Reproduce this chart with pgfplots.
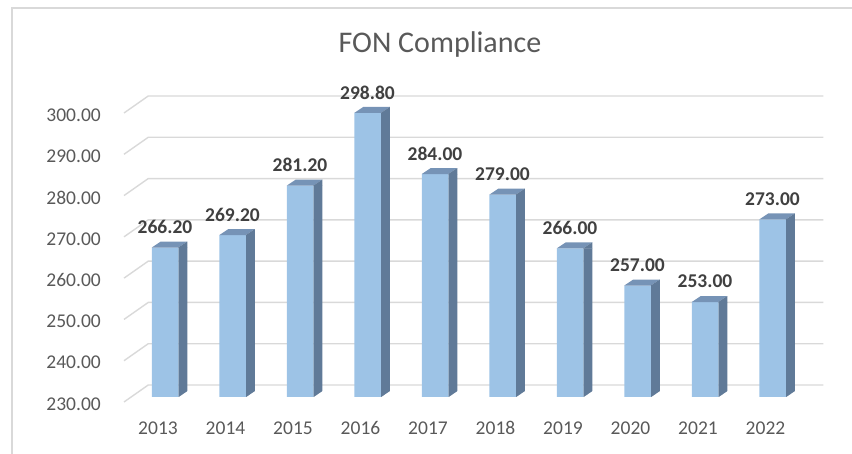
\documentclass[border=0pt]{standalone}
\usepackage{pgfplots}
\pgfplotsset{compat=1.18}
\usepackage{pgfplotstable}
\usepackage{fontspec}
\setmainfont{Carlito}

\definecolor{frontc}{RGB}{157,195,230}
\definecolor{sidec}{RGB}{96,122,152}
\definecolor{topc}{RGB}{118,147,182}
\definecolor{gridc}{RGB}{217,217,217}
\definecolor{tickc}{RGB}{89,89,89}
\definecolor{labc}{RGB}{64,64,64}

\pgfplotstableread{
year value label
2013 266.20 266.20
2014 269.20 269.20
2015 281.20 281.20
2016 298.80 298.80
2017 284.00 284.00
2018 279.00 279.00
2019 266.00 266.00
2020 257.00 257.00
2021 253.00 253.00
2022 273.00 273.00
}\data

% top face + top part of side face, drawn at the front-top-centre of each bar
\pgfdeclareplotmark{topface}{%
  \pgfsetfillcolor{topc}%
  \pgfpathmoveto{\pgfpoint{-13.25bp}{0bp}}%
  \pgfpathlineto{\pgfpoint{13.25bp}{0bp}}%
  \pgfpathlineto{\pgfpoint{22.25bp}{6bp}}%
  \pgfpathlineto{\pgfpoint{-4.25bp}{6bp}}%
  \pgfpathclose
  \pgfusepath{fill}%
  \pgfsetfillcolor{sidec}%
  \pgfpathmoveto{\pgfpoint{13.25bp}{-0.3bp}}%
  \pgfpathlineto{\pgfpoint{13.25bp}{0bp}}%
  \pgfpathlineto{\pgfpoint{22.25bp}{6bp}}%
  \pgfpathlineto{\pgfpoint{22.25bp}{-0.3bp}}%
  \pgfpathclose
  \pgfusepath{fill}%
}
% cut the lower corner of the side face
\pgfdeclareplotmark{basetri}{%
  \pgfsetfillcolor{white}%
  \pgfpathmoveto{\pgfpoint{13.25bp}{-0.5bp}}%
  \pgfpathlineto{\pgfpoint{22.75bp}{-0.5bp}}%
  \pgfpathlineto{\pgfpoint{22.75bp}{6bp}}%
  \pgfpathclose
  \pgfusepath{fill}%
}

\begin{document}
\begin{tikzpicture}[x=1bp,y=1bp]
\path[use as bounding box] (0,0) rectangle (852,454);
\draw[gridc, line width=1.3bp] (12,-5) -- (12,446) -- (860,446);
\node[anchor=base, text=tickc, font=\fontsize{30bp}{36bp}\selectfont] at (440,401) {FON Compliance};
\begin{axis}[
  at={(131.25bp,57bp)}, anchor=south west,
  scale only axis, width=675bp, height=289bp,
  xmin=2012.5, xmax=2022.5, ymin=230, ymax=300,
  y coord trafo/.code={\pgfmathparse{#1-230}},
  y coord inv trafo/.code={\pgfmathparse{#1+230}},
  clip=false,
  axis line style={draw=none},
  major tick style={draw=none},
  major tick length=0pt,
  xtick={2013,2014,2015,2016,2017,2018,2019,2020,2021,2022},
  xticklabels={2013,2014,2015,2016,2017,2018,2019,2020,2021,2022},
  ytick={230,240,250,260,270,280,290,300},
  yticklabels={230.00,240.00,250.00,260.00,270.00,280.00,290.00,300.00},
  xticklabel style={anchor=center, inner sep=0pt, yshift=-31bp, xshift=-7bp,
    text=tickc, font=\fontsize{19.5bp}{23bp}\selectfont},
  yticklabel style={anchor=east, inner sep=0pt, xshift=-30.25bp, yshift=-7bp,
    text=tickc, font=\fontsize{19.5bp}{23bp}\selectfont},
]
\pgfplotsinvokeforeach{230,240,250,260,270,280,290,300}{
  \draw[gridc, line width=1.4bp]
    ([xshift=-7.25bp,yshift=-5bp]axis cs:2012.5,#1) --
    ([xshift=17bp,yshift=12bp]axis cs:2012.5,#1) --
    ([xshift=17bp,yshift=12bp]axis cs:2022.5,#1);
}
\addplot[ybar, bar width=9bp, bar shift=17.75bp, fill=sidec, draw=none]
  table[x=year, y=value]{\data};
\addplot[ybar, bar width=26.5bp, bar shift=0bp, fill=frontc, draw=none]
  table[x=year, y=value]{\data};
\addplot[only marks, mark=basetri] table[x=year, y expr=230]{\data};
\addplot[only marks, mark=topface,
  nodes near coords, point meta=explicit symbolic,
  every node near coord/.append style={anchor=center, yshift=20.5bp,
    text=labc, font=\fontsize{19.5bp}{23bp}\selectfont\bfseries}]
  table[x=year, y=value, meta=label]{\data};
\end{axis}
\end{tikzpicture}
\end{document}
